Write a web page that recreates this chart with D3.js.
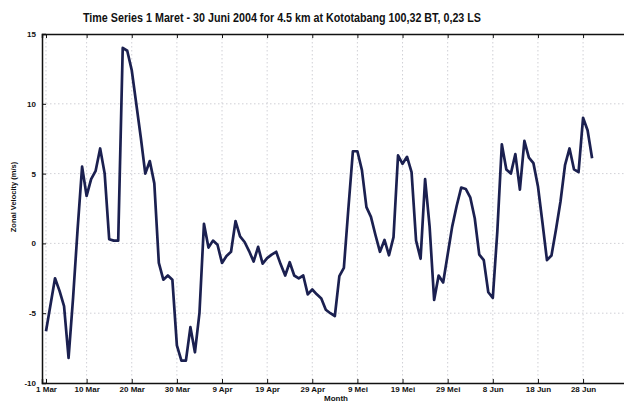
<!DOCTYPE html>
<html>
<head>
<meta charset="utf-8">
<script src="https://cdn.jsdelivr.net/npm/d3@7"></script>
<style>
  html, body { margin: 0; padding: 0; background: #ffffff; }
  svg { display: block; }
  text { font-family: "Liberation Sans", Arial, sans-serif; font-weight: bold; fill: #111; }
</style>
</head>
<body>
<svg id="chart" width="624" height="403"></svg>
<script>
// ---- data ----
const titleText = "Time Series 1 Maret - 30 Juni 2004 for 4.5 km at Kototabang 100,32 BT, 0,23 LS";
const xAxisTitle = "Month";
const yAxisTitle = "Zonal Velocity (m/s)";
const startDate = "2004-03-01";
// daily zonal velocity (m/s), 1 Mar .. 30 Jun 2004
const zonalVelocity = [
  -6.3, -4.4, -2.5, -3.4, -4.5, -8.2, -3.9, 1.0, 5.5, 3.4,
   4.6, 5.2, 6.8, 5.0, 0.3, 0.2, 0.2, 14.0, 13.8, 12.4,
  10.0, 7.6, 5.0, 5.9, 4.3, -1.4, -2.6, -2.3, -2.6, -7.3,
  -8.4, -8.4, -6.0, -7.8, -5.0, 1.4, -0.3, 0.2, -0.1, -1.4,
  -0.9, -0.6, 1.6, 0.5, 0.1, -0.55, -1.3, -0.25, -1.45, -1.05,
  -0.8, -0.6, -1.5, -2.3, -1.35, -2.3, -2.5, -2.3, -3.65, -3.3,
  -3.65, -3.95, -4.75, -5.0, -5.2, -2.35, -1.75, 2.5, 6.6, 6.6,
   5.25, 2.6, 1.9, 0.6, -0.6, 0.25, -0.85, 0.45, 6.3, 5.7,
   6.2, 5.1, 0.2, -1.1, 4.6, 1.2, -4.05, -2.3, -2.8, -0.8,
   1.2, 2.7, 4.0, 3.9, 3.3, 1.8, -0.8, -1.2, -3.5, -3.9,
   0.85, 7.1, 5.3, 5.0, 6.4, 3.85, 7.35, 6.15, 5.75, 4.1,
   1.5, -1.2, -0.87, 1.0, 3.0, 5.6, 6.8, 5.3, 5.1, 9.0,
   8.1, 6.1
];
const xTickDates = ["2004-03-01","2004-03-10","2004-03-20","2004-03-30","2004-04-09","2004-04-19","2004-04-29",
                    "2004-05-09","2004-05-19","2004-05-29","2004-06-08","2004-06-18","2004-06-28"];
const xTickLabels = ["1 Mar","10 Mar","20 Mar","30 Mar","9 Apr","19 Apr","29 Apr",
                     "9 Mei","19 Mei","29 Mei","8 Jun","18 Jun","28 Jun"];
const yTickValues = [-10, -5, 0, 5, 10, 15];
const yTickLabels = ["-10", "-5", "0", "5", "10", "15"];

// ---- layout ----
const parse = d3.utcParse("%Y-%m-%d");
const t0 = parse(startDate);
const DAY = 864e5;
const dates = zonalVelocity.map((_, i) => d3.utcDay.offset(t0, i));
const series = dates.map((d, i) => ({ date: d, value: zonalVelocity[i] }));
const tickDates = xTickDates.map(parse);

const L = 42, R = 630, T = 34, B = 383;
const svg = d3.select("#chart");

const x = d3.scaleUtc()
  .domain([new Date(+t0 - 0.886 * DAY), new Date(+t0 + 129.4 * DAY)])
  .range([L, R]);
const y = d3.scaleLinear().domain([-10, 15]).range([B, T]);

// grid
const grid = svg.append("g").attr("class", "grid");
grid.selectAll("line.v").data(tickDates).join("line")
  .attr("x1", d => x(d)).attr("x2", d => x(d))
  .attr("y1", T).attr("y2", B)
  .attr("stroke", "#c4c4cc").attr("stroke-width", 0.8).attr("stroke-dasharray", "1.5,2.5");
grid.selectAll("line.h").data(yTickValues.filter(v => v > -10 && v < 15)).join("line")
  .attr("x1", L).attr("x2", R)
  .attr("y1", d => y(d)).attr("y2", d => y(d))
  .attr("stroke", "#c4c4cc").attr("stroke-width", 0.8).attr("stroke-dasharray", "1.5,2.5");

// axes (MATLAB-style inward ticks)
const xb = svg.append("g").attr("transform", `translate(0,${B})`)
  .call(d3.axisBottom(x).tickValues(tickDates).tickSize(-4).tickPadding(7)
        .tickFormat((d, i) => xTickLabels[i]));
const xt = svg.append("g").attr("transform", `translate(0,${T})`)
  .call(d3.axisTop(x).tickValues(tickDates).tickSize(-4).tickFormat(""));
const yl = svg.append("g").attr("transform", `translate(${L},0)`)
  .call(d3.axisLeft(y).tickValues(yTickValues).tickSize(-4).tickPadding(6)
        .tickFormat((d, i) => yTickLabels[i]));

[xb, xt, yl].forEach(g => {
  g.select(".domain").attr("stroke", "#111").attr("stroke-width", 1.5);
  g.selectAll(".tick line").attr("stroke", "#111").attr("stroke-width", 1);
  g.selectAll("text").style("font-size", "8px").attr("fill", "#111");
});
xb.selectAll(".tick text").attr("dy", "0.2em");

// line
const line = d3.line().x(d => x(d.date)).y(d => y(d.value)).curve(d3.curveLinear);
svg.append("path").datum(series)
  .attr("d", line)
  .attr("fill", "none")
  .attr("stroke", "#1b2050")
  .attr("stroke-width", 2.7)
  .attr("stroke-linejoin", "round");

// titles
svg.append("text")
  .attr("x", 282).attr("y", 22)
  .attr("text-anchor", "middle")
  .attr("textLength", 398).attr("lengthAdjust", "spacingAndGlyphs")
  .style("font-size", "12px")
  .text(titleText);

svg.append("text")
  .attr("x", 336).attr("y", 401)
  .attr("text-anchor", "middle")
  .style("font-size", "8px")
  .text(xAxisTitle);

svg.append("text")
  .attr("transform", "translate(16,197) rotate(-90)")
  .attr("text-anchor", "middle")
  .style("font-size", "7.5px")
  .text(yAxisTitle);
</script>
</body>
</html>
